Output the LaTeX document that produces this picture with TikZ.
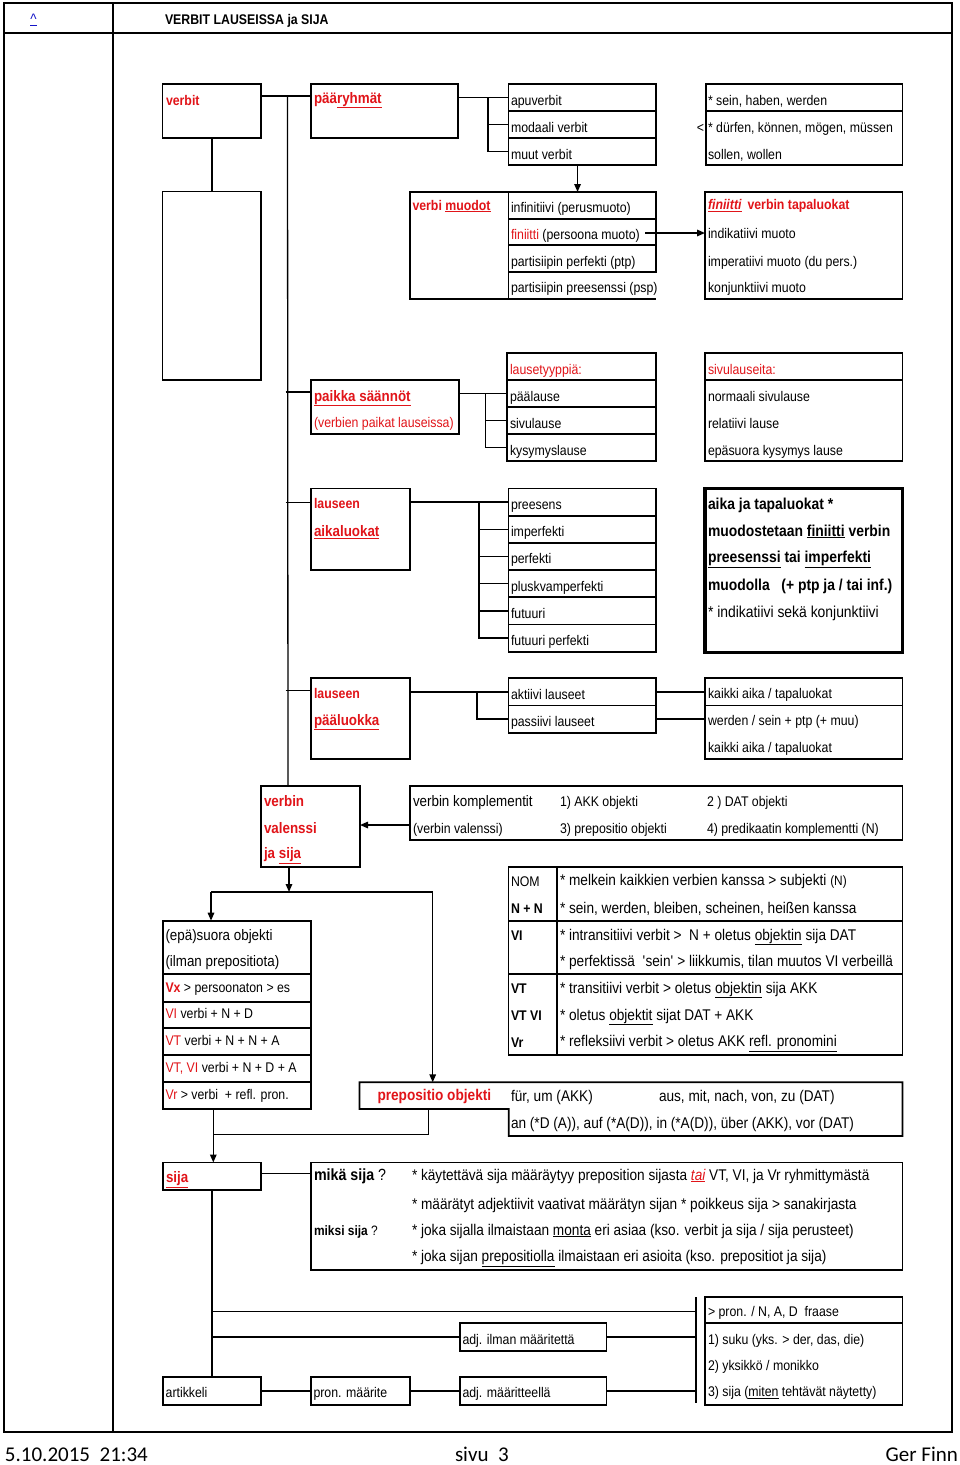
\documentclass[tikz,border=0pt]{standalone}
\usepackage{fontspec}
\setmainfont{Liberation Sans}[FakeStretch=0.88]
\newfontfamily\footfont{Carlito}
\usetikzlibrary{calc,arrows.meta}
\definecolor{xred}{RGB}{225,20,25}
\definecolor{xblue}{RGB}{20,20,200}
\newcounter{tn}
\newcommand\T[3][]{\stepcounter{tn}\node[txt,#1] (t\arabic{tn}) at (#2) {#3};}
\newcommand\B[6][]{\node[box,#1,minimum width={#5-#3},minimum height={#6-#4}] (#2) at ({(#3+#5)/2},{(#4+#6)/2}) {};}
\newcommand\R[1]{\textcolor{xred}{#1}}
\newcommand\RB[1]{\textcolor{xred}{\bfseries #1}}
\newcommand\fsz{\fontsize{14}{17}\selectfont}
\newcommand\fbig{\fontsize{15.2}{18}\selectfont}
\newcommand\fbp{\fontsize{15.5}{18}\selectfont}
\newcommand\ffz{\footfont\fontsize{21}{24}\selectfont}
\begin{document}
\begin{tikzpicture}[x=1pt,y=-1pt,
  box/.style={draw,line width=1.7pt,rectangle,inner sep=0pt,outer sep=0pt},
  txt/.style={anchor=base west,inner sep=0pt,outer sep=0pt,font=\fsz},
  con/.style={line width=1.5pt},
  sep/.style={line width=1.7pt},
  arr/.style={con,-{Triangle[length=8pt,width=6.5pt]}},
]
\useasboundingbox (0,0) rectangle (960,1465);
\fill[white] (0,0) rectangle (960,1465);
% frame
\node[box,line width=2pt,minimum width=948,minimum height=1429] (page) at (478,717.5) {};
\draw[line width=2pt] ($(page.north west)+(0,30)$) -- ($(page.north east)+(0,30)$);
\draw[line width=1.5pt] ($(page.north west)+(109,0)$) -- ($(page.south west)+(109,0)$);
\T{30.5,24}{\fbig\textcolor{xblue}{\underline{\textasciicircum}}}
\T{165,24}{\bfseries\fontsize{14}{16}\selectfont VERBIT LAUSEISSA ja SIJA}

% ---------- row 1
\B{verbit}{162.5}{84}{261}{138}
\T{166,105}{\RB{verbit}}
\B{paer}{311}{84}{458}{138}
\T{314,103}{\fbig\RB{pää\underline{ryhmät}}}
\B{ap1}{508.5}{84}{656}{111}
\B{ap2}{508.5}{111}{656}{138}
\B{ap3}{508.5}{138}{656}{165}
\T{511,105}{apuverbit}
\T{511,132}{modaali verbit}
\T{511,159}{muut verbit}
\B{sein}{706}{84}{902.5}{165}
\draw[sep] ($(sein.north west)+(0,27)$) -- ($(sein.north east)+(0,27)$);
\T{708,105}{* sein, haben, werden}
\T{708,132}{* dürfen, können, mögen, müssen}
\T{708,159}{sollen, wollen}
\T[anchor=base east]{704,132}{<}

% ---------- row 2
\B{lbox}{162.5}{191.5}{261}{380}
\B{muo}{410}{192}{508.5}{299}
\T{412.5,210}{\RB{verbi \underline{muodot}}}
\B{vm1}{508.5}{192}{656}{218.7}
\B{vm2}{508.5}{218.7}{656}{245.3}
\B{vm3}{508.5}{245.3}{656}{272}
\B[draw=none]{vm4}{508.5}{272}{656}{299}
\draw[sep] (vm4.north west) |- (vm4.south east);
\T{511,212.5}{infinitiivi (perusmuoto)}
\T{511,239}{\R{finiitti} (persoona muoto)}
\T{511,266}{partisiipin perfekti (ptp)}
\T{511,292.5}{partisiipin preesenssi (psp)}
\B{fin}{705}{192}{902.5}{299}
\T{708,209.5}{\RB{\itshape\underline{finiitti}}\hspace{6pt}\RB{verbin tapaluokat}}
\T{708,238.5}{indikatiivi muoto}
\T{708,266}{imperatiivi muoto (du pers.)}
\T{708,292}{konjunktiivi muoto}

% ---------- row 3
\B{paik}{311}{380}{459}{434}
\T{314,401}{\fbig\RB{\underline{paikka säännöt}}}
\T{314,427.5}{\R{(verbien paikat lauseissa)}}
\B{lt0}{507}{353}{656}{380}
\B{lt1}{507}{380}{656}{407}
\B{lt2}{507}{407}{656}{434}
\B{lt3}{507}{434}{656}{461}
\T{510,374}{\R{lausetyyppiä:}}
\T{510,401}{päälause}
\T{510,428}{sivulause}
\T{510,455}{kysymyslause}
\B{sv}{705}{353}{902.5}{461}
\draw[sep] ($(sv.north west)+(0,27)$) -- ($(sv.north east)+(0,27)$);
\T{708,374}{\R{sivulauseita:}}
\T{708,401}{normaali sivulause}
\T{708,428}{relatiivi lause}
\T{708,455}{epäsuora kysymys lause}

% ---------- row 4
\B{aik}{311}{488.5}{410}{570}
\T{314,508.5}{\RB{lauseen}}
\T{314,536.5}{\fbig\RB{\underline{aikaluokat}}}
\B{tm1}{508.5}{488.5}{656}{515.7}
\B{tm2}{508.5}{515.7}{656}{542.9}
\B{tm3}{508.5}{542.9}{656}{570.1}
\B{tm4}{508.5}{570.1}{656}{597.3}
\B{tm5}{508.5}{597.3}{656}{624.5}
\B{tm6}{508.5}{624.5}{656}{651.7}
\T{511,509.5}{preesens}
\T{511,536.7}{imperfekti}
\T{511,563.9}{perfekti}
\T{511,591.1}{pluskvamperfekti}
\T{511,618.3}{futuuri}
\T{511,645.5}{futuuri perfekti}
\B[line width=3.5pt]{ak}{705}{488.5}{902.5}{652.5}
\T{708,509.5}{\fontsize{15.8}{18}\selectfont\bfseries aika ja tapaluokat *}
\T{708,536}{\fontsize{15.8}{18}\selectfont\bfseries muodostetaan \underline{finiitti} verbin}
\T{708,562.5}{\fontsize{15.8}{18}\selectfont\bfseries \underline{preesenssi} tai \underline{imperfekti}}
\T{708,590.5}{\fontsize{15.8}{18}\selectfont\bfseries muodolla\ \ \ (+ ptp ja / tai inf.)}
\T{708,617}{\fontsize{15.8}{18}\selectfont * indikatiivi sekä konjunktiivi}

% ---------- row 5
\B{paa}{311}{678.3}{410}{759.3}
\T{314,698.5}{\RB{lauseen}}
\T{314,725}{\fbig\RB{\underline{pääluokka}}}
\B{pa1}{508.5}{678.3}{656}{705.5}
\B{pa2}{508.5}{705.5}{656}{732.7}
\T{511,699}{aktiivi lauseet}
\T{511,726}{passiivi lauseet}
\B{kk}{705}{678.3}{902.5}{759.3}
\draw[sep] ($(kk.north west)+(0,27.2)$) -- ($(kk.north east)+(0,27.2)$);
\T{708,698.5}{kaikki aika / tapaluokat}
\T{708,725.5}{werden / sein + ptp (+ muu)}
\T{708,752}{kaikki aika / tapaluokat}

% ---------- row 6
\B{val}{261}{786}{360}{867}
\T{264,806.5}{\fbig\RB{verbin}}
\T{264,833}{\fbig\RB{valenssi}}
\T{264,858.5}{\fbig\RB{ja \underline{sija}}}
\B{kom}{410}{786}{902.5}{840}
\T{413,806}{\fbig verbin komplementit}
\T{560,806}{1) AKK objekti}
\T{707,806}{2 ) DAT objekti}
\T{413,833}{(verbin valenssi)}
\T{560,833}{3) prepositio objekti}
\T{707,833}{4) predikaatin komplementti (N)}

% ---------- row 7
\B{e0}{162.7}{920.7}{310.7}{974.3}
\B{e1}{162.7}{974.3}{310.7}{1001.7}
\B{e2}{162.7}{1001.7}{310.7}{1028.3}
\B{e3}{162.7}{1028.3}{310.7}{1055}
\B{e4}{162.7}{1055}{310.7}{1082.3}
\B{e5}{162.7}{1082.3}{310.7}{1109.3}
\T{165.5,940}{\fbig (epä)suora objekti}
\T{165.5,966.5}{\fbig (ilman prepositiota)}
\T{165.5,992}{\RB{Vx} > persoonaton > es}
\T{165.5,1018.5}{\R{VI} verbi + N + D}
\T{165.5,1045.5}{\R{VT} verbi + N + N + A}
\T{165.5,1072.3}{\R{VT, VI} verbi + N + D + A}
\T{165.5,1099.3}{\R{Vr} > verbi\ \ + refl. pron.}

\B{n1a}{508.5}{866.7}{557}{920.7}
\B{n1b}{557}{866.7}{902.5}{920.7}
\B{n2a}{508.5}{920.7}{557}{974.3}
\B{n2b}{557}{920.7}{902.5}{974.3}
\B{n3a}{508.5}{974.3}{557}{1055}
\B{n3b}{557}{974.3}{902.5}{1055}
\T{511,886}{NOM}
\T{511,913.5}{\bfseries N + N}
\T{511,940}{\bfseries VI}
\T{511,993.5}{\bfseries VT}
\T{511,1020.5}{\bfseries VT VI}
\T{511,1047}{\bfseries Vr}
\T{560,885}{\fbp * melkein kaikkien verbien kanssa > subjekti {\fontsize{13.5}{15}\selectfont (N)}}
\T{560,913}{\fbp * sein, werden, bleiben, scheinen, heißen kanssa}
\T{560,940}{\fbp * intransitiivi verbit >\ \ N + oletus \underline{objektin} sija DAT}
\T{560,966.5}{\fbp * perfektissä\ \ \textquotesingle sein\textquotesingle\ > liikkumis, tilan muutos VI verbeillä}
\T{560,993}{\fbp * transitiivi verbit > oletus \underline{objektin} sija AKK}
\T{560,1020}{\fbp * oletus \underline{objektit} sijat DAT + AKK}
\T{560,1046.5}{\fbp * refleksiivi verbit > oletus AKK \underline{refl. pronomini}}

\B[draw=none]{prep}{359.5}{1082.3}{508.7}{1109}
\B[draw=none]{prepr}{508.7}{1082.3}{902.5}{1136}
\draw[sep] (prep.north west) -- (prepr.north east) -- (prepr.south east) -- (prepr.south west) -- (prep.south east) -- (prep.south west) -- cycle;
\T{377.5,1100.7}{\fbp\RB{prepositio objekti}}
\T{511,1101}{\fbp für, um (AKK)}
\T{659,1101}{\fbp aus, mit, nach, von, zu (DAT)}
\T{511,1128.5}{\fbp an (*D (A)), auf (*A(D)), in (*A(D)), über (AKK), vor (DAT)}

% ---------- row 8
\B{sija}{162.8}{1162.5}{261}{1190}
\T{166,1182.5}{\fbig\RB{\underline{sija}}}
\B{why}{310.7}{1162.5}{902.5}{1270}
\T{314,1180}{\fontsize{16.2}{18}\selectfont\bfseries mikä sija\mdseries\ ?}
\T{412,1180}{\fbp * käytettävä sija määräytyy preposition sijasta \R{\itshape\underline{tai}}\ VT, VI, ja Vr ryhmittymästä}
\T{412,1209}{\fbp * määrätyt adjektiivit vaativat määrätyn sijan * poikkeus sija > sanakirjasta}
\T{314,1235}{\fontsize{13.6}{16}\selectfont\bfseries miksi sija\mdseries\ ?}
\T{412,1235}{\fbp * joka sijalla ilmaistaan \underline{monta} eri asiaa (kso. verbit ja sija / sija perusteet)}
\T{412,1261.5}{\fbp * joka sijan \underline{prepositiolla} ilmaistaan eri asioita (kso. prepositiot ja sija)}

% ---------- bottom
\B{art}{162.8}{1377.3}{261}{1405}
\B{ai}{459.7}{1323.3}{606.6}{1350.7}
\B{pm}{310.7}{1377.3}{410}{1405}
\B{am}{459.7}{1377.3}{606.6}{1405}
\B{fr}{705}{1297.3}{902.5}{1405}
\draw[sep] ($(fr.north west)+(0,26)$) -- ($(fr.north east)+(0,26)$);
\T{708,1316.5}{> pron. / N, A, D\ \ fraase}
\T{708,1344}{1) suku (yks. > der, das, die)}
\T{708,1370.5}{2) yksikkö / monikko}
\T{708,1396.5}{3) sija (\underline{miten} tehtävät näytetty)}
\T{462.5,1344}{adj. ilman määritettä}
\T{165.7,1397}{artikkeli}
\T{313.5,1397}{pron. määrite}
\T{462.5,1397}{adj. määritteellä}

% ---------- connectors
\draw[con] ($(verbit.north east)+(0,12)$) -- ($(paer.north west)+(0,12)$);
\draw[line width=1.3pt] ($(verbit.north east)+(26.5,12)$) -- ($(val.north west)+(27,0)$);
\draw[con] (paer.east |- ap1.west) -- (ap1.west);
\draw[con] ($(ap1.west)+(-20.5,0)$) |- (ap3.west);
\draw[con] ($(ap2.west)+(-20.5,0)$) -- (ap2.west);
\draw[arr] ($(ap3.south)+(-4.7,0)$) -- ($(vm1.north)+(-4.7,0)$);
\draw[con] (verbit.south) -- (lbox.north);
\draw[arr] ($(vm2.east)+(-11,1)$) -- ($(fin.north west)+(0,41)$);

\draw[con] ($(paik.north west)+(-25.5,12)$) -- ($(paik.north west)+(0,12)$);
\draw[con] (paik.east |- lt1.west) -- (lt1.west);
\draw[con] ($(lt1.west)+(-21.5,0)$) |- (lt3.west);
\draw[con] ($(lt2.west)+(-21.5,0)$) -- (lt2.west);

\draw[con] ($(aik.north west)+(-25.5,14.2)$) -- ($(aik.north west)+(0,14.2)$);
\draw[con] (aik.east |- tm1.west) -- (tm1.west);
\draw[con] ($(tm1.west)+(-29.5,0)$) |- (tm6.west);
\foreach \i in {2,...,5} \draw[con] ($(tm\i.west)+(-29.5,0)$) -- (tm\i.west);

\draw[con] ($(paa.north west)+(-25.5,12.4)$) -- ($(paa.north west)+(0,12.4)$);
\draw[con] (paa.east |- pa1.west) -- (pa1.west);
\draw[con] ($(pa1.west)+(-31.5,0)$) |- (pa2.west);
\draw[con] (pa1.east) -- (kk.west |- pa1.east);
\draw[con] (pa2.east) -- (kk.west |- pa2.east);

\draw[arr] ($(kom.north west)+(0,39)$) -- ($(val.north east)+(0,39)$);

\coordinate (jl) at (211,892);
\coordinate (jm) at (289,892);
\coordinate (jr) at (432.7,892);
\draw[arr] (val.south -| jm) -- (jm);
\draw[con] (jl) -- (jr);
\draw[arr] (jl) -- (e0.north -| jl);
\draw[arr] (jr) -- (prep.north -| jr);

\coordinate (jb) at (213.3,1134.3);
\coordinate (jc) at (428.3,1134.3);
\draw[con] (prep.south -| jc) -- (jc) -- (jb);
\draw[arr] (e5.south -| jb) -- (sija.north -| jb);

\draw[con] ($(sija.north east)+(0,11)$) -- ($(why.north west)+(0,11)$);
\draw[con] (sija.south) -- (art.north);
\coordinate (bt) at (696,1297.3);
\coordinate (bb) at (696,1403.3);
\draw[con] (bt) -- (bb);
\coordinate (h1) at (211.9,1311.7);
\draw[con] (h1) -- (h1 -| bt);
\draw[con] (ai.west -| h1) -- (ai.west);
\draw[con] (ai.east) -- (ai.east -| bt);
\draw[con] (art.east) -- (pm.west);
\draw[con] (pm.east) -- (am.west);
\draw[con] (am.east) -- (am.east -| bt);

% ---------- footer
\T[font=\ffz]{5,1461}{5.10.2015\ \ 21:34}
\T[font=\ffz]{455,1461}{sivu\ \ 3}
\T[font=\ffz,anchor=base east]{958,1461}{Ger Finn}
\end{tikzpicture}
\end{document}
